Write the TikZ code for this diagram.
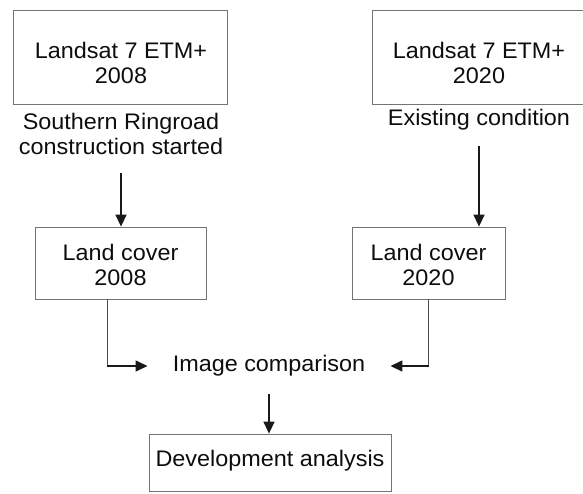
\documentclass[tikz,border=0pt]{standalone}
\usepackage{fontspec}
\setmainfont{Liberation Sans}[FakeStretch=1.04]
\usetikzlibrary{arrows.meta}

\tikzset{
  box/.style={draw=black!55, line width=0.8pt, inner sep=0pt},
  txt/.style={align=center, text=black!95, inner sep=3pt},
  flow/.style={-{Triangle[length=12pt,width=11pt]}, line width=1.4pt, black!90},
  link/.style={line width=1pt, black!70},
}

\begin{document}
\begin{tikzpicture}[x=1pt,y=-1pt,font=\fontsize{22.5}{25.5}\selectfont]
  \useasboundingbox (0,0) rectangle (583,493);

  % satellite images
  \node[name=sat08, box, minimum width=214pt, minimum height=94pt] at (120,57) {};
  \node[name=sat08t, txt] at (121,63) {Landsat 7 ETM+\\2008};
  \node[name=sat20, box, minimum width=216pt, minimum height=94pt] at (480,57) {};
  \node[name=sat20t, txt] at (479,63) {Landsat 7 ETM+\\2020};

  \node[name=note08, txt] at (121,134) {Southern Ringroad\\construction started};
  \node[name=note20, txt] at (479,120) {Existing condition};

  % land cover
  \node[name=lc08, box, minimum width=171pt, minimum height=72pt] at (120.5,263) {};
  \node[name=lc08t, txt] at (120.5,265) {Land cover\\2008};
  \node[name=lc20, box, minimum width=153pt, minimum height=72pt] at (428.5,263) {};
  \node[name=lc20t, txt] at (428.5,265) {Land cover\\2020};

  \draw[flow, shorten <=15pt] (note08.south) -- (note08.south |- lc08.north);
  \draw[flow, shorten <=12pt] (note20.south) -- (note20.south |- lc20.north);

  \node[name=cmp, txt, inner xsep=25pt] at (269,366) {Image comparison};
  \draw[link] ([xshift=-13.5pt]lc08.south) -- ([xshift=-13.5pt]lc08.south |- cmp.west);
  \draw[flow] ([xshift=-13.5pt]lc08.south |- cmp.west) -- (cmp.west);
  \draw[link] (lc20.south) -- (lc20.south |- cmp.east);
  \draw[flow] (lc20.south |- cmp.east) -- (cmp.east);

  \node[name=dev, box, minimum width=242pt, minimum height=57pt] at (270,462.5) {};
  \node[name=devt, txt] at (270,461) {Development analysis};
  \draw[flow, shorten <=14pt] (cmp.south) -- (cmp.south |- dev.north);
\end{tikzpicture}
\end{document}
